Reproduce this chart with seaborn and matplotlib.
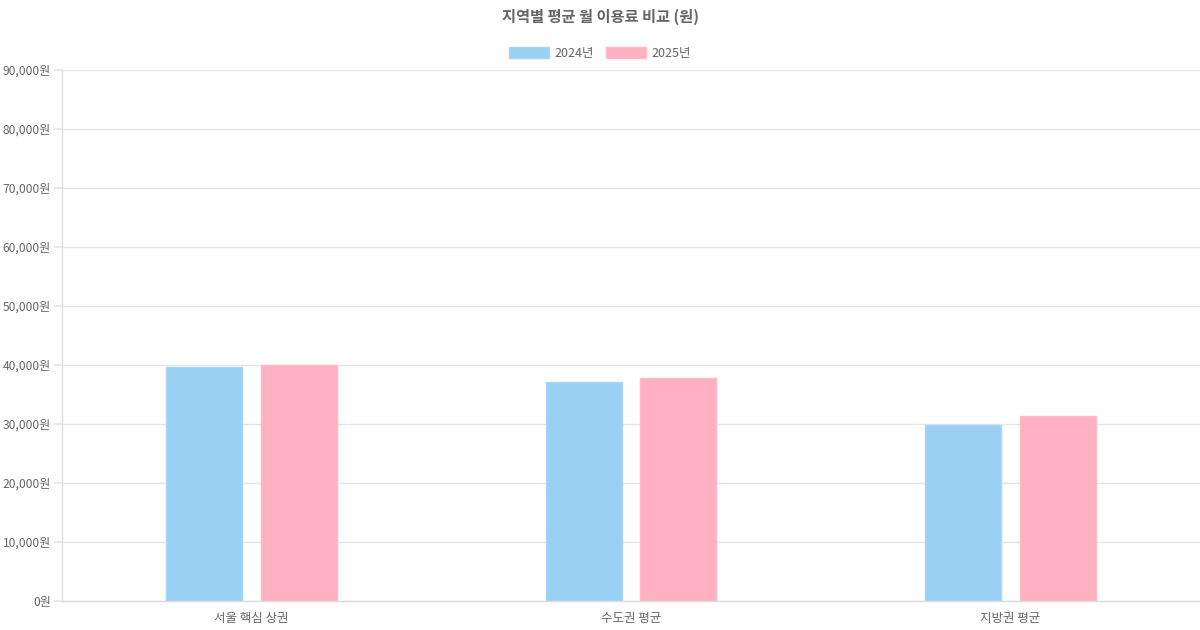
import pandas as pd
import numpy as np
import matplotlib
matplotlib.use("Agg")
from matplotlib import pyplot as plt
from matplotlib.ticker import FuncFormatter
from matplotlib.patches import Patch
import seaborn as sns

regions = ['서울 핵심 상권', '수도권 평균', '지방권 평균']
years = ['2024년', '2025년']
fee_2024 = [39700, 37050, 29800]
fee_2025 = [40000, 37850, 31300]

df = pd.DataFrame({
    'region': regions * 2,
    'year': [years[0]] * 3 + [years[1]] * 3,
    'fee': fee_2024 + fee_2025,
})

sns.set_theme(style='white')
plt.rcParams['font.family'] = ['Noto Sans CJK KR', 'DejaVu Sans']

fills = {'2024년': '#9BD0F5', '2025년': '#FFB1C1'}
edges = {'2024년': '#A9D6F5', '2025년': '#FFB9C7'}

fig = plt.figure(figsize=(12, 6.3), dpi=100)
ax = fig.add_axes([62 / 1200, 29 / 630, 1138 / 1200, 531 / 630])

sns.barplot(data=df, x='region', y='fee', hue='year', palette=fills,
            width=0.5, gap=0.2, ax=ax, legend=False, saturation=1)
for bar, yr in zip(ax.patches, [years[0]] * 3 + [years[1]] * 3):
    bar.set_edgecolor(edges[yr])
    bar.set_linewidth(1)

ax.set_ylim(0, 90000)
ax.set_xlim(-0.5, 2.5)
ax.set_yticks(np.arange(0, 90001, 10000))
ax.yaxis.set_major_formatter(FuncFormatter(lambda v, p: f'{int(v):,}원'))
ax.grid(axis='y', color='#e5e5e5', linewidth=1)
ax.set_axisbelow(True)
ax.set_xlabel('')
ax.set_ylabel('')
for s in ['top', 'right']:
    ax.spines[s].set_visible(False)
for s in ['left', 'bottom']:
    ax.spines[s].set_color('#dcdcdc')
    ax.spines[s].set_linewidth(1)
ax.tick_params(axis='y', length=6, color='#e5e5e5', labelsize=8.7, labelcolor='#666666', pad=2, left=True)
ax.tick_params(axis='x', length=0, labelsize=9, labelcolor='#666666', pad=8)

fig.text(0.5, 1 - 17 / 630, '지역별 평균 월 이용료 비교 (원)', ha='center', va='center',
         fontsize=11, fontweight='bold', color='#666666')

handles = [Patch(facecolor=fills[y], edgecolor=edges[y], label=y) for y in years]
fig.legend(handles=handles, loc='center', bbox_to_anchor=(0.5, 1 - 53 / 630), ncol=2,
           frameon=False, fontsize=9, labelcolor='#666666', handlelength=3.2,
           handleheight=1.0, columnspacing=0.9, handletextpad=0.5)

fig.savefig('out.png', dpi=100)
